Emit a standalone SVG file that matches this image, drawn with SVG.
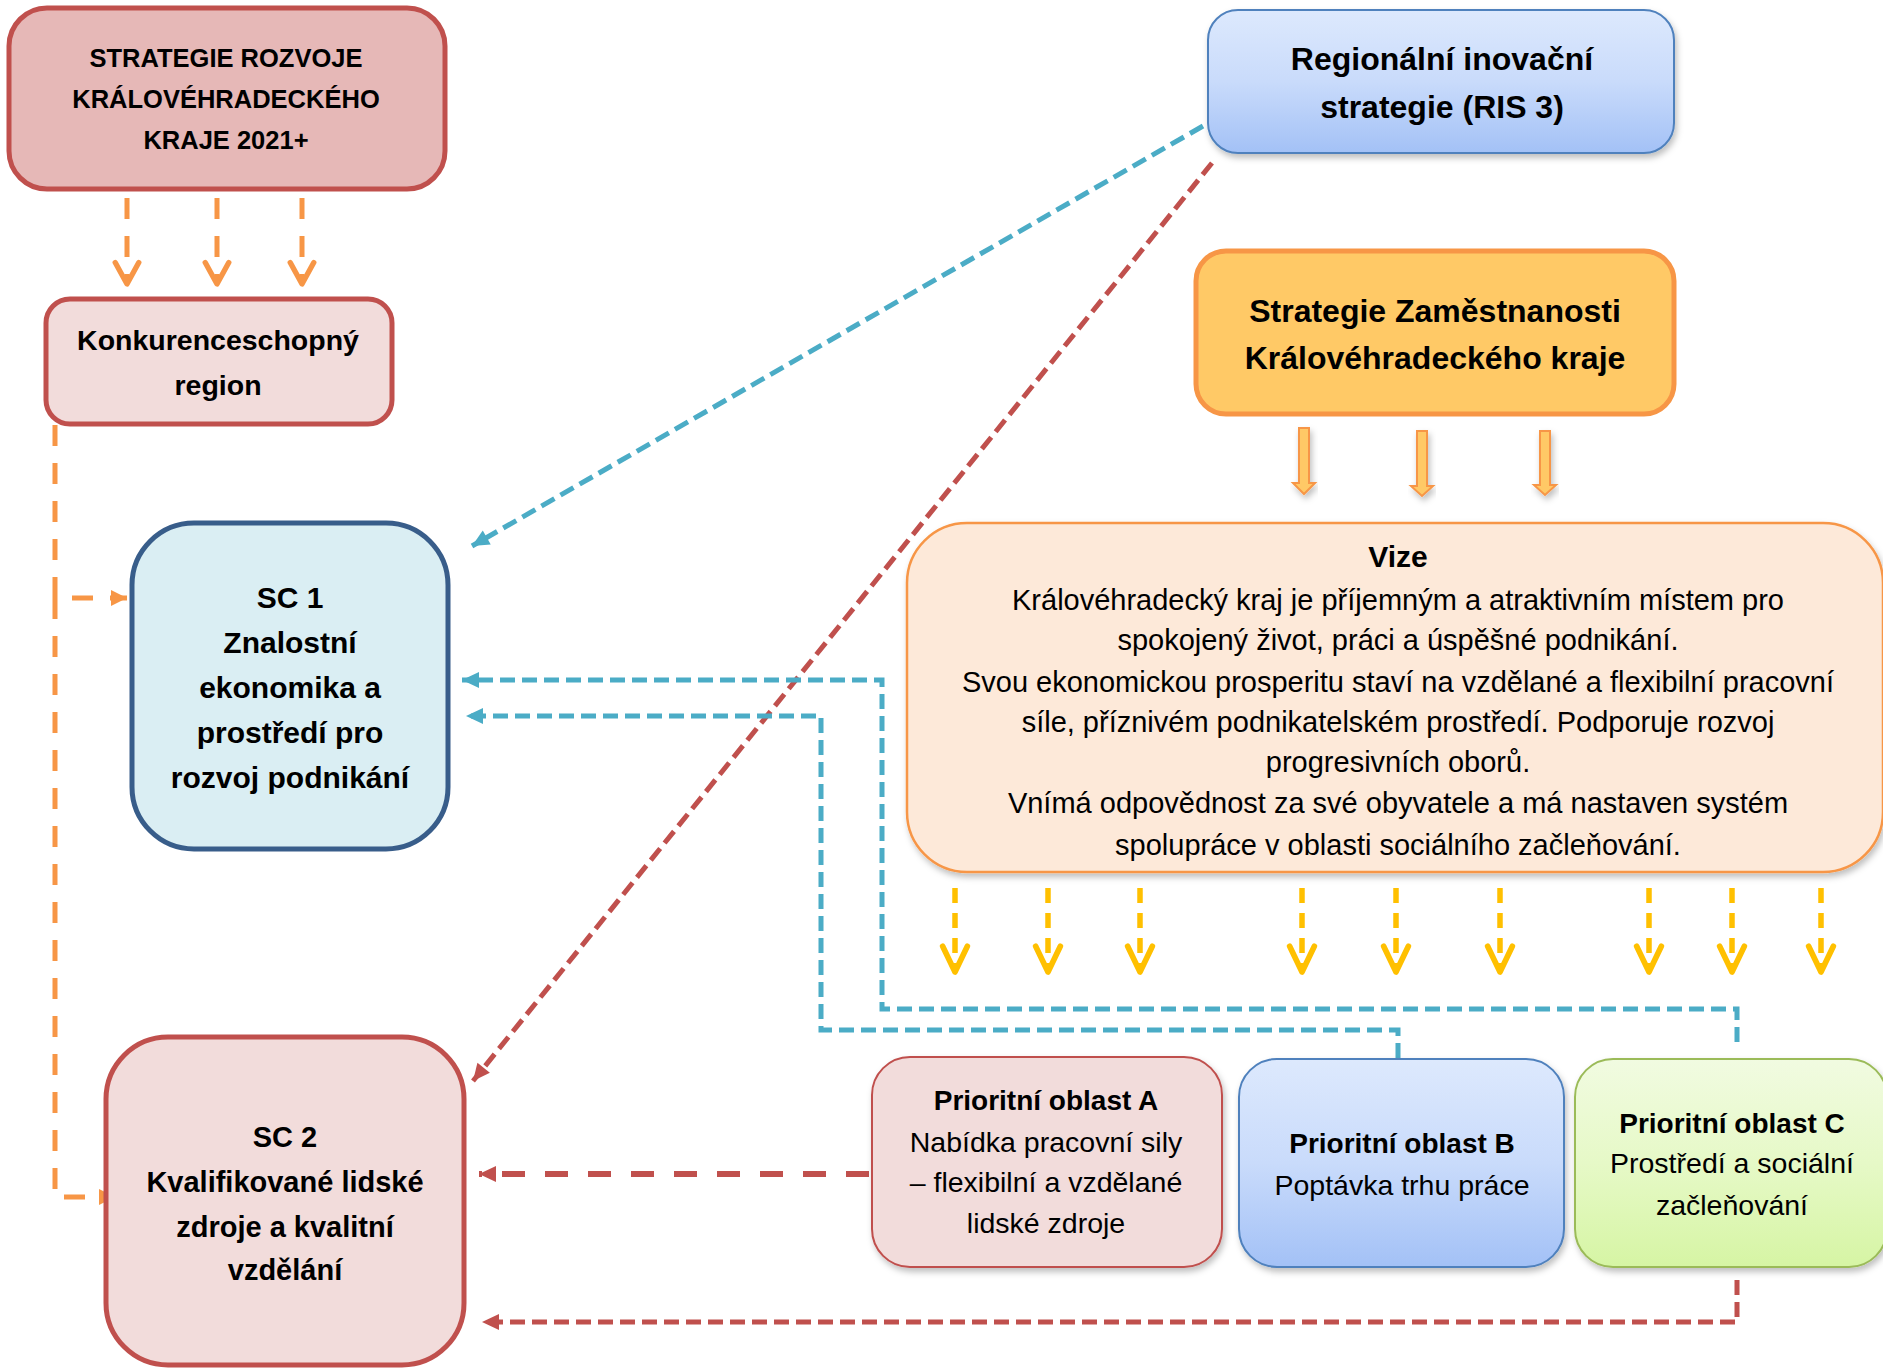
<svg xmlns="http://www.w3.org/2000/svg" width="1883" height="1369" viewBox="0 0 1883 1369">
<style>
  text { font-family: "Liberation Sans", Arial, sans-serif; fill: #000; text-anchor: middle; }
  .b { font-weight: bold; }
  .shadow { filter: url(#sh); }
  .dash-or { fill: none; stroke: #f79646; stroke-width: 5; stroke-dasharray: 21 17; }
  .dash-bl { fill: none; stroke: #4bacc6; stroke-width: 5; stroke-dasharray: 15 7; }
  .dash-rd { fill: none; stroke: #c0504d; stroke-width: 5; stroke-dasharray: 15 7; }
  .dash-rd2 { fill: none; stroke: #c0504d; stroke-width: 6; stroke-dasharray: 23 20; }
  .dash-ye { fill: none; stroke: #ffc000; stroke-width: 5.5; stroke-dasharray: 15 10; }
  .block { fill: #ffc966; stroke: #f79646; stroke-width: 2; }
</style>
<defs>
  <filter id="sh" x="-10%" y="-10%" width="120%" height="130%">
    <feDropShadow dx="2" dy="4" stdDeviation="3" flood-color="#000" flood-opacity="0.25"/>
  </filter>
  <linearGradient id="gBlue" x1="0" y1="0" x2="0" y2="1">
    <stop offset="0" stop-color="#dde9fd"/>
    <stop offset="0.5" stop-color="#c9dbfb"/>
    <stop offset="1" stop-color="#a3c1f6"/>
  </linearGradient>
  <linearGradient id="gGreen" x1="0" y1="0" x2="0" y2="1">
    <stop offset="0" stop-color="#f1fbe1"/>
    <stop offset="0.5" stop-color="#e6f9c7"/>
    <stop offset="1" stop-color="#d6f5a4"/>
  </linearGradient>
  <marker id="chevOr" markerUnits="userSpaceOnUse" markerWidth="30" markerHeight="30" viewBox="-24 -14 28 28" refX="0" refY="0" orient="auto">
    <path d="M-20,-11 L0,0 L-20,11" fill="none" stroke="#f79646" stroke-width="5" stroke-dasharray="none" stroke-linecap="round" stroke-linejoin="round"/>
  </marker>
  <marker id="chevYe" markerUnits="userSpaceOnUse" markerWidth="36" markerHeight="36" viewBox="-30 -17 35 34" refX="0" refY="0" orient="auto">
    <path d="M-25,-12 L0,0 L-25,12" fill="none" stroke="#ffc000" stroke-width="5.5" stroke-dasharray="none" stroke-linecap="round" stroke-linejoin="round"/>
  </marker>
  <marker id="triBl" markerUnits="userSpaceOnUse" markerWidth="24" markerHeight="24" viewBox="-20 -12 22 24" refX="0" refY="0" orient="auto">
    <path d="M0,0 L-17,-8 L-17,8 Z" fill="#4bacc6"/>
  </marker>
  <marker id="triRd" markerUnits="userSpaceOnUse" markerWidth="24" markerHeight="24" viewBox="-20 -12 22 24" refX="0" refY="0" orient="auto">
    <path d="M0,0 L-17,-8 L-17,8 Z" fill="#c0504d"/>
  </marker>
  <marker id="triOr" markerUnits="userSpaceOnUse" markerWidth="24" markerHeight="24" viewBox="-20 -12 22 24" refX="0" refY="0" orient="auto">
    <path d="M0,0 L-16,-8 L-16,8 Z" fill="#f79646"/>
  </marker>
</defs>

<g id="connectors">
  <path class="dash-or" d="M127,198 V284" marker-end="url(#chevOr)"/>
  <path class="dash-or" d="M217,198 V284" marker-end="url(#chevOr)"/>
  <path class="dash-or" d="M302,198 V284" marker-end="url(#chevOr)"/>
  <path class="dash-or" d="M55,425 V598 H127" marker-end="url(#triOr)"/>
  <path class="dash-or" d="M55,598 V1197 H115" marker-end="url(#triOr)"/>
  <path class="dash-bl" d="M1203,126 L472,546" marker-end="url(#triBl)"/>
  <path class="dash-rd" d="M1212,163 L473,1081" marker-end="url(#triRd)"/>
  <path class="block shadow" d="M1299,428 H1309 V483 H1315 L1304,494 L1293,483 H1299 Z"/>
  <path class="block shadow" d="M1417,431 H1427 V486 H1433 L1422,496 L1411,486 H1417 Z"/>
  <path class="block shadow" d="M1540,431 H1550 V485 H1556 L1545,495 L1534,485 H1540 Z"/>
  <path class="dash-ye" d="M955,888 V972" marker-end="url(#chevYe)"/>
  <path class="dash-ye" d="M1048,888 V972" marker-end="url(#chevYe)"/>
  <path class="dash-ye" d="M1140,888 V972" marker-end="url(#chevYe)"/>
  <path class="dash-ye" d="M1302,888 V972" marker-end="url(#chevYe)"/>
  <path class="dash-ye" d="M1396,888 V972" marker-end="url(#chevYe)"/>
  <path class="dash-ye" d="M1500,888 V972" marker-end="url(#chevYe)"/>
  <path class="dash-ye" d="M1649,888 V972" marker-end="url(#chevYe)"/>
  <path class="dash-ye" d="M1732,888 V972" marker-end="url(#chevYe)"/>
  <path class="dash-ye" d="M1821,888 V972" marker-end="url(#chevYe)"/>
  <path class="dash-bl" d="M1737,1042 V1009 H882 V680 H462" marker-end="url(#triBl)"/>
  <path class="dash-bl" d="M1398,1058 V1030 H821 V716 H466" marker-end="url(#triBl)"/>
  <path class="dash-rd2" d="M869,1174 H479" marker-end="url(#triRd)"/>
  <path class="dash-rd" d="M1737,1280 V1322 H482" marker-end="url(#triRd)"/>
</g>

<g id="strategie-rozvoje">
  <rect x="9" y="8" width="436" height="181" rx="38" fill="#e6b8b7" stroke="#c0504d" stroke-width="5"/>
  <text class="b" x="226" y="67" font-size="25.5">STRATEGIE ROZVOJE</text>
  <text class="b" x="226" y="108" font-size="25.5">KRÁLOVÉHRADECKÉHO</text>
  <text class="b" x="226" y="149" font-size="25.5">KRAJE 2021+</text>
</g>

<g id="konkurenceschopny-region">
  <rect x="46" y="299" width="346" height="125" rx="24" fill="#f2dcdb" stroke="#c0504d" stroke-width="5"/>
  <text class="b" x="218" y="350" font-size="28.5">Konkurenceschopný</text>
  <text class="b" x="218" y="395" font-size="28.5">region</text>
</g>

<g id="ris3">
  <rect class="shadow" x="1208" y="10" width="466" height="143" rx="30" fill="url(#gBlue)" stroke="#4f81bd" stroke-width="2"/>
  <text class="b" x="1442" y="70" font-size="32">Regionální inovační</text>
  <text class="b" x="1442" y="118" font-size="32">strategie (RIS 3)</text>
</g>

<g id="strategie-zamestnanosti">
  <rect x="1196" y="251" width="478" height="163" rx="30" fill="#ffc966" stroke="#f79646" stroke-width="5"/>
  <text class="b" x="1435" y="322" font-size="32">Strategie Zaměstnanosti</text>
  <text class="b" x="1435" y="369" font-size="32">Královéhradeckého kraje</text>
</g>

<g id="sc1">
  <rect x="132" y="523" width="316" height="326" rx="62" fill="#daeef3" stroke="#385d8a" stroke-width="5"/>
  <text class="b" x="290" y="608" font-size="30">SC 1</text>
  <text class="b" x="290" y="653" font-size="30">Znalostní</text>
  <text class="b" x="290" y="698" font-size="30">ekonomika a</text>
  <text class="b" x="290" y="743" font-size="30">prostředí pro</text>
  <text class="b" x="290" y="788" font-size="30">rozvoj podnikání</text>
</g>

<g id="vize">
  <rect class="shadow" x="907" y="523" width="976" height="349" rx="60" fill="#fde9d9" stroke="#f79646" stroke-width="2.5"/>
  <text class="b" x="1398" y="567" font-size="30">Vize</text>
  <text x="1398" y="610" font-size="29">Královéhradecký kraj je příjemným a atraktivním místem pro</text>
  <text x="1398" y="650" font-size="29">spokojený život, práci a úspěšné podnikání.</text>
  <text x="1398" y="692" font-size="29">Svou ekonomickou prosperitu staví na vzdělané a flexibilní pracovní</text>
  <text x="1398" y="732" font-size="29">síle, příznivém podnikatelském prostředí. Podporuje rozvoj</text>
  <text x="1398" y="772" font-size="29">progresivních oborů.</text>
  <text x="1398" y="813" font-size="29">Vnímá odpovědnost za své obyvatele a má nastaven systém</text>
  <text x="1398" y="855" font-size="29">spolupráce v oblasti sociálního začleňování.</text>
</g>

<g id="sc2">
  <rect x="106" y="1037" width="358" height="328" rx="62" fill="#f2dcdb" stroke="#c0504d" stroke-width="5"/>
  <text class="b" x="285" y="1147" font-size="29">SC 2</text>
  <text class="b" x="285" y="1192" font-size="29">Kvalifikované lidské</text>
  <text class="b" x="285" y="1237" font-size="29">zdroje a kvalitní</text>
  <text class="b" x="285" y="1280" font-size="29">vzdělání</text>
</g>

<g id="prioritni-oblast-a">
  <rect class="shadow" x="872" y="1057" width="350" height="210" rx="38" fill="#f2dcdb" stroke="#c0504d" stroke-width="2"/>
  <text class="b" x="1046" y="1110" font-size="28">Prioritní oblast A</text>
  <text x="1046" y="1152" font-size="28.5">Nabídka pracovní sily</text>
  <text x="1046" y="1192" font-size="28.5">– flexibilní a vzdělané</text>
  <text x="1046" y="1233" font-size="28.5">lidské zdroje</text>
</g>

<g id="prioritni-oblast-b">
  <rect class="shadow" x="1239" y="1059" width="325" height="208" rx="38" fill="url(#gBlue)" stroke="#4f81bd" stroke-width="2"/>
  <text class="b" x="1402" y="1153" font-size="28">Prioritní oblast B</text>
  <text x="1402" y="1195" font-size="28.5">Poptávka trhu práce</text>
</g>

<g id="prioritni-oblast-c">
  <rect class="shadow" x="1575" y="1059" width="312" height="208" rx="38" fill="url(#gGreen)" stroke="#9bbb59" stroke-width="2"/>
  <text class="b" x="1732" y="1133" font-size="28">Prioritní oblast C</text>
  <text x="1732" y="1173" font-size="28.5">Prostředí a sociální</text>
  <text x="1732" y="1215" font-size="28.5">začleňování</text>
</g>
</svg>
